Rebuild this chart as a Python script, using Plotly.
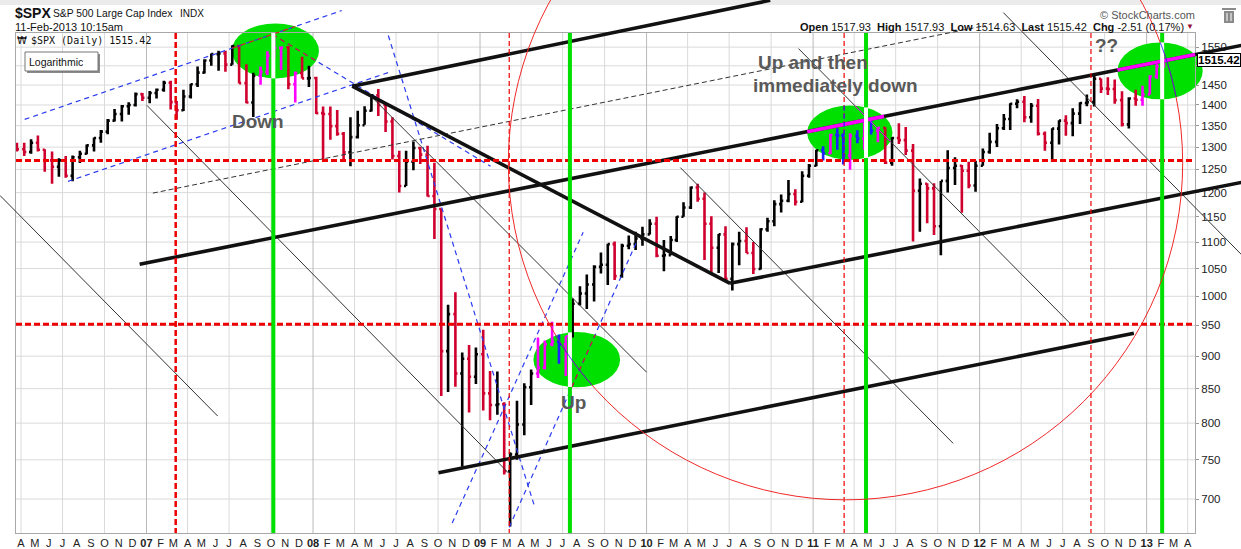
import numpy as np
import pandas as pd
import plotly.graph_objects as go

# ---------------- DATA ----------------
# S&P 500 half-month bars: first bar = second half of March 2006, last = first half of Feb 2013
first_bar = (2006, 3, 2)          # (year, month, half)
first_open = 1303

highs_2006 = [1310, 1310, 1318, 1327, 1295, 1290, 1275, 1280, 1281, 1292, 1306, 1322, 1340, 1366, 1390, 1400, 1407, 1431, 1430]
lows_2006 = [1290, 1280, 1285, 1290, 1245, 1219, 1234, 1232, 1224, 1264, 1284, 1290, 1310, 1330, 1360, 1360, 1376, 1396, 1410]
closes_2006 = [1295, 1289, 1310, 1294, 1270, 1256, 1270, 1236, 1277, 1285, 1304, 1321, 1336, 1362, 1378, 1397, 1400, 1427, 1418]

highs_2007 = [1435, 1441, 1461, 1461, 1410, 1438, 1453, 1498, 1517, 1533, 1540, 1540, 1555, 1556, 1504, 1482, 1498, 1539, 1576, 1552, 1553, 1485, 1524, 1500]
lows_2007 = [1404, 1416, 1433, 1389, 1364, 1385, 1416, 1445, 1480, 1500, 1487, 1484, 1503, 1454, 1404, 1371, 1451, 1476, 1520, 1489, 1439, 1406, 1467, 1445]
closes_2007 = [1430, 1438, 1456, 1407, 1387, 1421, 1452, 1482, 1514, 1531, 1533, 1503, 1553, 1455, 1406, 1474, 1484, 1527, 1548, 1549, 1452, 1481, 1467, 1468]

highs_2008 = [1471, 1396, 1396, 1388, 1335, 1370, 1386, 1397, 1426, 1440, 1406, 1370, 1292, 1292, 1313, 1300, 1303, 1265, 1167, 985, 1007, 906, 918, 914]
lows_2008 = [1378, 1270, 1317, 1326, 1272, 1257, 1320, 1352, 1384, 1373, 1335, 1272, 1200, 1214, 1248, 1262, 1192, 1106, 839, 845, 853, 741, 815, 857]
closes_2008 = [1380, 1378, 1349, 1331, 1288, 1323, 1351, 1386, 1424, 1400, 1360, 1280, 1214, 1267, 1298, 1283, 1193, 1166, 908, 969, 873, 896, 868, 903]

highs_2009 = [943, 877, 876, 830, 760, 832, 858, 879, 930, 925, 956, 935, 932, 996, 1018, 1039, 1056, 1080, 1097, 1101, 1097, 1113, 1120, 1130]
lows_2009 = [818, 804, 812, 731, 667, 750, 783, 826, 866, 879, 916, 888, 869, 930, 984, 978, 991, 1041, 1020, 1029, 1033, 1086, 1085, 1093]
closes_2009 = [843, 826, 827, 735, 757, 798, 852, 873, 882, 919, 923, 919, 932, 987, 1005, 1021, 1053, 1057, 1096, 1036, 1093, 1096, 1107, 1115]

highs_2010 = [1145, 1150, 1104, 1112, 1151, 1180, 1213, 1219, 1200, 1151, 1116, 1131, 1099, 1120, 1129, 1100, 1127, 1148, 1184, 1196, 1227, 1207, 1246, 1262]
lows_2010 = [1115, 1071, 1045, 1075, 1100, 1150, 1166, 1181, 1066, 1040, 1042, 1028, 1010, 1056, 1079, 1040, 1048, 1120, 1131, 1159, 1180, 1173, 1180, 1232]
closes_2010 = [1136, 1074, 1075, 1104, 1150, 1169, 1211, 1187, 1136, 1089, 1115, 1031, 1096, 1102, 1079, 1049, 1125, 1141, 1176, 1183, 1197, 1181, 1236, 1258]

highs_2011 = [1294, 1302, 1331, 1344, 1332, 1332, 1339, 1364, 1371, 1346, 1346, 1323, 1356, 1347, 1307, 1230, 1220, 1220, 1225, 1293, 1277, 1260, 1267, 1269]
lows_2011 = [1257, 1270, 1284, 1294, 1261, 1249, 1309, 1294, 1329, 1311, 1262, 1258, 1307, 1282, 1101, 1120, 1137, 1114, 1075, 1200, 1216, 1158, 1209, 1202]
closes_2011 = [1293, 1286, 1328, 1327, 1281, 1326, 1320, 1364, 1338, 1345, 1265, 1321, 1316, 1292, 1204, 1219, 1209, 1131, 1225, 1253, 1258, 1247, 1215, 1258]

highs_2012 = [1297, 1333, 1354, 1378, 1404, 1414, 1422, 1405, 1415, 1336, 1344, 1363, 1375, 1392, 1407, 1426, 1474, 1467, 1470, 1464, 1434, 1419, 1438, 1448]
lows_2012 = [1258, 1285, 1300, 1340, 1340, 1392, 1358, 1357, 1327, 1292, 1267, 1306, 1326, 1325, 1354, 1397, 1396, 1430, 1425, 1403, 1348, 1343, 1398, 1398]
closes_2012 = [1289, 1312, 1344, 1366, 1403, 1408, 1370, 1398, 1331, 1310, 1343, 1362, 1356, 1379, 1405, 1407, 1466, 1441, 1440, 1412, 1353, 1416, 1413, 1426]

highs_2013 = [1475, 1509, 1518]
lows_2013 = [1426, 1466, 1495]
closes_2013 = [1472, 1498, 1515.42]

quote = dict(open="1517.93", high="1517.93", low="1514.63", last="1515.42", chg="-2.51", pct="0.17%")

# 1500 is hidden behind the last-price box in the original
y_tick_values = [700, 750, 800, 850, 900, 950, 1000, 1050, 1100, 1150, 1200, 1250,
                 1300, 1350, 1400, 1450, 1500, 1550]
y_tick_labels = ["700", "750", "800", "850", "900", "950", "1000", "1050", "1100", "1150", "1200", "1250",
                 "1300", "1350", "1400", "1450", "", "1550"]
month_letters = ["J", "F", "M", "A", "M", "J", "J", "A", "S", "O", "N", "D"]

# ---- hand-drawn annotations, in data coordinates (date, price) ----
thick_lines = [
    ("2008-03-27", 1447, "2010-09-29", 1683),
    ("2008-03-27", 1447, "2010-07-03", 1023),
    ("2010-07-03", 1023, "2013-07-29", 1222),
    ("2006-12-17", 1058, "2013-07-29", 1555),
    ("2008-10-02", 733, "2012-12-04", 937),
]
thin_lines = [
    ("2006-02-14", 1194, "2007-06-06", 810),
    ("2007-01-02", 1399, "2009-03-04", 733),
    ("2008-05-12", 1416, "2010-01-01", 875),
    ("2010-03-16", 1254, "2011-11-04", 772),
    ("2010-11-30", 1546, "2012-07-19", 952),
    ("2012-02-22", 1647, "2013-07-29", 1075),
]
dashed_black_lines = [("2007-01-15", 1199, "2012-01-14", 1610)]
blue_dashed_lines = [
    ("2006-04-09", 1365, "2008-03-04", 1653),
    ("2006-07-13", 1224, "2008-06-16", 1483),
    ("2007-10-04", 1585, "2009-01-24", 1257),
    ("2008-06-14", 1582, "2009-05-01", 690),
    ("2008-11-01", 671, "2009-08-15", 1119),
    ("2009-03-06", 666, "2009-12-12", 1104),
]
green_ellipses = [   # (left date, right date, top price, bottom price)
    ("2007-07-07", "2008-01-14", 1616, 1467),
    ("2009-04-28", "2009-11-04", 939, 852),
    ("2010-12-19", "2011-06-24", 1399, 1271),
    ("2012-10-29", "2013-05-04", 1563, 1414),
]
green_vlines = ["2007-10-06", "2009-07-17", "2011-04-27", "2013-02-04"]
red_vlines_thick = ["2007-03-06"]
red_vlines_thin = ["2009-03-06", "2011-03-10", "2012-09-01"]
red_hlines = [1270, 952]
red_circle = ("2009-03-04", "2013-03-21", 2285, 699)

# ---------------- build series ----------------
highs = highs_2006 + highs_2007 + highs_2008 + highs_2009 + highs_2010 + highs_2011 + highs_2012 + highs_2013
lows = lows_2006 + lows_2007 + lows_2008 + lows_2009 + lows_2010 + lows_2011 + lows_2012 + lows_2013
closes = closes_2006 + closes_2007 + closes_2008 + closes_2009 + closes_2010 + closes_2011 + closes_2012 + closes_2013
opens = [first_open] + closes[:-1]

bar_dates = []
yy, mm, hh = first_bar
for _ in closes:
    bar_dates.append(pd.Timestamp(year=yy, month=mm, day=8 if hh == 1 else 23))
    if hh == 1:
        hh = 2
    else:
        hh = 1
        mm += 1
        if mm == 13:
            mm, yy = 1, yy + 1

# ---------------- geometry helpers ----------------
W, H = 1241, 549
ML, MR, MT, MB = 16, 46, 33, 16
PW, PH = W - ML - MR, H - MT - MB
X_START, X_END = pd.Timestamp("2006-03-21"), pd.Timestamp("2013-04-17")
P_LOW, P_HIGH = 659.4, 1589.0
LY0, LY1 = np.log10(P_LOW), np.log10(P_HIGH)


def xpix(d):
    return ML + PW * ((pd.Timestamp(d) - X_START) / (X_END - X_START))


def ypix(v):
    return MT + PH * (LY1 - np.log10(v)) / (LY1 - LY0)


def xpap(x):
    return (x - ML) / PW


def ypap(y):
    return (MT + PH - y) / PH


shapes = []


def seg(x0, y0, x1, y1, color, width, dash=None, layer="above"):
    shapes.append(dict(type="line", xref="paper", yref="paper",
                       x0=xpap(x0), y0=ypap(y0), x1=xpap(x1), y1=ypap(y1),
                       line=dict(color=color, width=width, dash=dash), layer=layer))


def rect(x0, y0, x1, y1, fill, line_color=None, lw=0, layer="above"):
    shapes.append(dict(type="rect", xref="paper", yref="paper",
                       x0=xpap(x0), y0=ypap(y1), x1=xpap(x1), y1=ypap(y0),
                       fillcolor=fill, line=dict(color=line_color or fill, width=lw), layer=layer))


ells = []
for d0, d1, ptop, pbot in green_ellipses:
    x0, x1, y0, y1 = xpix(d0), xpix(d1), ypix(ptop), ypix(pbot)
    ells.append(((x0 + x1) / 2, (y0 + y1) / 2, (x1 - x0) / 2, (y1 - y0) / 2))


def inside(x, y):
    return any(((x - cx) / rx) ** 2 + ((y - cy) / ry) ** 2 <= 1 for cx, cy, rx, ry in ells)


def chord(p0, p1, ell):
    cx, cy, rx, ry = ell
    x0, y0 = p0
    dx, dy = p1[0] - x0, p1[1] - y0
    ax, ay, bx, by = (x0 - cx) / rx, (y0 - cy) / ry, dx / rx, dy / ry
    a = bx * bx + by * by
    b = 2 * (ax * bx + ay * by)
    c = ax * ax + ay * ay - 1
    disc = b * b - 4 * a * c
    if a == 0 or disc <= 0:
        return None
    s = np.sqrt(disc)
    t0, t1 = max((-b - s) / (2 * a), 0.0), min((-b + s) / (2 * a), 1.0)
    if t1 <= t0:
        return None
    return (x0 + t0 * dx, y0 + t0 * dy, x0 + t1 * dx, y0 + t1 * dy)


BLACK, RED, BLUE, GREEN = "#111111", "#ee0000", "#2b3cf0", "#00e000"
RED_BAR = "#d0002e"
BLEND = {BLACK: "#ff00ff", RED: "#2020ff", BLUE: "#d42020", GREEN: "#ffffff", "#333333": "#ff00ff"}

# background strip + grid (below)
rect(0, 0, W, 5, "#ebebeb", layer="below")
for v in y_tick_values:
    seg(ML, ypix(v), ML + PW, ypix(v), "#dadada", 1, layer="below")
for q in pd.date_range("2006-01-01", "2013-12-31", freq="QS-JAN"):
    if X_START <= q <= X_END:
        col = "#b9b9b9" if q.month == 1 else "#dadada"
        seg(xpix(q), MT, xpix(q), MT + PH, col, 1, layer="below")
# green ellipses (below traces, above grid)
for cx, cy, rx, ry in ells:
    shapes.append(dict(type="circle", xref="paper", yref="paper",
                       x0=xpap(cx - rx), x1=xpap(cx + rx), y0=ypap(cy + ry), y1=ypap(cy - ry),
                       fillcolor=GREEN, line=dict(width=0), layer="below"))

# overlay segments (above)
overlay = []
for d0, p0, d1, p1 in blue_dashed_lines:
    overlay.append(((xpix(d0), ypix(p0)), (xpix(d1), ypix(p1)), BLUE, 1.2, "5px,4px"))
for d0, p0, d1, p1 in dashed_black_lines:
    overlay.append(((xpix(d0), ypix(p0)), (xpix(d1), ypix(p1)), "#333333", 1, "5px,3px"))
for d0, p0, d1, p1 in thin_lines:
    overlay.append(((xpix(d0), ypix(p0)), (xpix(d1), ypix(p1)), "#333333", 1, None))
for d0, p0, d1, p1 in thick_lines:
    overlay.append(((xpix(d0), ypix(p0)), (xpix(d1), ypix(p1)), BLACK, 3.6, None))
for v in red_hlines:
    overlay.append(((ML, ypix(v)), (ML + PW, ypix(v)), RED, 3, "6px,3px"))
for d in red_vlines_thick:
    overlay.append(((xpix(d), MT), (xpix(d), MT + PH), RED, 2.5, "6px,3px"))
for d in red_vlines_thin:
    overlay.append(((xpix(d), MT), (xpix(d), MT + PH), RED, 1.2, "5px,3px"))
for d in green_vlines:
    overlay.append(((xpix(d), MT), (xpix(d), MT + PH), GREEN, 4, None))

for p0, p1, col, w, dash in overlay:
    seg(p0[0], p0[1], p1[0], p1[1], col, w, dash)

# red circle
c0, c1, ctop, cbot = red_circle
ccx0, ccx1, ccy0, ccy1 = xpix(c0), xpix(c1), ypix(ctop), ypix(cbot)
shapes.append(dict(type="circle", xref="paper", yref="paper",
                   x0=xpap(ccx0), x1=xpap(ccx1), y0=ypap(ccy1), y1=ypap(ccy0),
                   line=dict(color="#f02828", width=1), layer="above"))

# colour-blended parts inside the green ellipses
for p0, p1, col, w, dash in overlay:
    for ell in ells:
        ch = chord(p0, p1, ell)
        if ch:
            seg(ch[0], ch[1], ch[2], ch[3], BLEND.get(col, col), w, dash)
th = np.linspace(0, 2 * np.pi, 3000)
ccx, ccy, crx, cry = (ccx0 + ccx1) / 2, (ccy0 + ccy1) / 2, (ccx1 - ccx0) / 2, (ccy1 - ccy0) / 2
cxs, cys = ccx + crx * np.cos(th), ccy + cry * np.sin(th)
for ex, ey, erx, ery in ells:
    mask = ((cxs - ex) / erx) ** 2 + ((cys - ey) / ery) ** 2 <= 1
    idx = np.where(mask)[0]
    if len(idx) > 1:
        path = "M " + " L ".join(f"{xpap(cxs[i]):.5f},{ypap(cys[i]):.5f}" for i in idx)
        shapes.append(dict(type="path", xref="paper", yref="paper", path=path,
                           line=dict(color="#2020ff", width=1), layer="above"))

# ---------------- figure ----------------
fig = go.Figure()
in_mask = [inside(xpix(d), ypix(c)) for d, c in zip(bar_dates, closes)]


def sub(lst, keep):
    return [v for v, k in zip(lst, in_mask) if k == keep]


for keep, up, down in [(False, "black", RED_BAR), (True, "#ff00ff", "#2020ff")]:
    fig.add_trace(go.Ohlc(
        x=sub(bar_dates, keep), open=sub(opens, keep), high=sub(highs, keep),
        low=sub(lows, keep), close=sub(closes, keep),
        increasing=dict(line=dict(color=up, width=2.6)),
        decreasing=dict(line=dict(color=down, width=2.6)),
        tickwidth=0.35, hoverinfo="skip", showlegend=False))

tick_dates = pd.date_range("2006-04-01", "2013-04-01", freq="MS")
tick_text = [f"<b>{d.strftime('%y')}</b>" if d.month == 1 else month_letters[d.month - 1] for d in tick_dates]

FONT = "Arial, Liberation Sans, sans-serif"
annotations = []


def text(x, y, s, size, color="#111", anchor="left", family=FONT, **kw):
    annotations.append(dict(xref="paper", yref="paper", x=xpap(x), y=ypap(y), text=s,
                            showarrow=False, xanchor=anchor, yanchor="middle",
                            font=dict(size=size, color=color, family=family), **kw))


# header
text(13, 13, "<b>$SPX</b>", 14)
text(51, 14, "S&P 500 Large Cap Index", 10.3)
text(178, 14, "INDX", 10)
text(13, 27, "11-Feb-2013 10:15am", 11)
text(1186, 27, f"<b>Open</b> {quote['open']}  <b>High</b> {quote['high']}  <b>Low</b> {quote['low']}  "
     f"<b>Last</b> {quote['last']}  <b>Chg</b> {quote['chg']} ({quote['pct']})", 11, anchor="right")
text(1196, 27, "▼", 8, color="#99103a", anchor="right")
text(1197, 15, "© StockCharts.com", 11, color="#555", anchor="right")
# trash icon
rect(1222, 8, 1236, 10, "#8a8a8a")
rect(1224, 11, 1234, 23, "#8a8a8a")
for xx in (1227, 1231):
    seg(xx, 13, xx, 21, "#ffffff", 1)

# in-plot legend
text(15, 40, "₩", 10, family="DejaVu Sans")
text(29, 40, f"$SPX (Daily) {quote['last']}", 10, family="DejaVu Sans Mono")
rect(27, 54, 100, 73, "#8a8a8a")
rect(25, 52, 98, 71, "#ffffff", line_color="#777777", lw=1)
text(27, 62, "Logarithmic", 10.5)

# price marker
annotations.append(dict(xref="paper", yref="paper", x=xpap(1197), y=ypap(ypix(closes[-1])),
                        text=f"<b>{quote['last']}</b>", showarrow=False, xanchor="left", yanchor="middle",
                        font=dict(size=11.5, color="#000", family=FONT), bgcolor="#ffffff",
                        bordercolor="#000000", borderwidth=1, borderpad=0))

# commentary
GRAY = "#595959"
text(258, 121, "<b>Down</b>", 19, color=GRAY, anchor="center")
text(573, 402, "<b>Up</b>", 19, color=GRAY, anchor="center")
text(756, 62, "<b>Up and then</b>", 19, color=GRAY)
text(751, 85, "<b>immediately down</b>", 19, color=GRAY)
text(1106, 45, "<b>??</b>", 19, color=GRAY, anchor="center")

fig.update_layout(
    width=W, height=H, autosize=False,
    margin=dict(l=ML, r=MR, t=MT, b=MB, pad=0, autoexpand=False),
    paper_bgcolor="white", plot_bgcolor="white",
    showlegend=False, shapes=shapes, annotations=annotations,
    font=dict(family=FONT, size=11, color="#111"),
    xaxis=dict(type="date", range=[X_START, X_END], tickmode="array", tickvals=tick_dates,
               ticktext=tick_text, showgrid=False, zeroline=False, ticks="",
               showline=True, mirror=True, linecolor="#a8a8a8", linewidth=1,
               tickfont=dict(size=11, color="#222"), rangeslider=dict(visible=False),
               fixedrange=True, automargin=False),
    yaxis=dict(type="log", range=[LY0, LY1], side="right", tickmode="array",
               tickvals=y_tick_values, ticktext=y_tick_labels,
               showgrid=False, zeroline=False, ticks="outside", ticklen=3, tickcolor="#999",
               showline=True, mirror=True, linecolor="#a8a8a8", linewidth=1,
               tickfont=dict(size=11.5, color="#222"), fixedrange=True, automargin=False),
)

fig.write_html("out.html", config=dict(displayModeBar=False),
               post_script="document.body.style.margin='0px';document.body.style.padding='0px';"
                           "document.body.style.overflow='hidden';")
